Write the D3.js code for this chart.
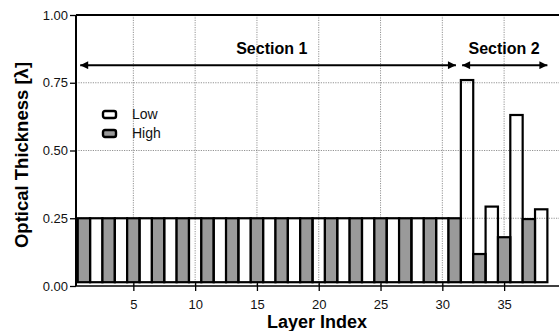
<!DOCTYPE html>
<html>
<head>
<meta charset="utf-8">
<script src="https://cdn.jsdelivr.net/npm/d3@7"></script>
<style>
  body { margin: 0; background: #fff; }
  text { font-family: "Liberation Sans", Arial, Helvetica, sans-serif; }
</style>
</head>
<body>
<div id="vis"></div>
<script>
const w = 559;
const h = 331;

// layer index 1..38, optical thickness in waves
const layers = d3.range(1, 39);
const thickness = [
    0.25, 0.25, 0.25, 0.25, 0.25, 0.25, 0.25, 0.25, 0.25, 0.25,
    0.25, 0.25, 0.25, 0.25, 0.25, 0.25, 0.25, 0.25, 0.25, 0.25,
    0.25, 0.25, 0.25, 0.25, 0.25, 0.25, 0.25, 0.25, 0.25, 0.25,
    0.25, 0.76, 0.118, 0.293, 0.18, 0.631, 0.247, 0.283
];
// odd layers are high index, even layers low index
const material = layers.map(i => i % 2 === 1 ? "High" : "Low");

const yTicks = [0, 0.25, 0.5, 0.75, 1.0];
const xTicks = [5, 10, 15, 20, 25, 30, 35];
const legendItems = ["Low", "High"];
const sections = [
    {label: "Section 1", start: 0.7, end: 31.1, labelAt: 16.2},
    {label: "Section 2", start: 31.6, end: 38.5, labelAt: 35.0}
];

const margin = ({top: 15, right: 0, bottom: 45, left: 76});
const barBase = 0.014;

const svg = d3.select('#vis')
    .append('svg')
    .attr('width', w)
    .attr('height', h)

const xScale = d3.scaleLinear()
    .domain([0.36, 39.44])
    .range([margin.left, w - margin.right]);

const yScale = d3.scaleLinear()
    .domain([0, 1])
    .range([h - margin.bottom, margin.top]);

const fillFor = {"High": "#9a9a9a", "Low": "none"};

// grid
svg.append('g')
    .selectAll('line')
    .data(xTicks)
    .join('line')
    .attr('x1', d => xScale(d))
    .attr('x2', d => xScale(d))
    .attr('y1', yScale(1))
    .attr('y2', yScale(0))
    .attr('stroke', '#777')
    .attr('stroke-width', 0.8)
    .attr('stroke-dasharray', '1.2,1.2');

svg.append('g')
    .selectAll('line')
    .data(yTicks.filter(d => d > 0 && d < 1))
    .join('line')
    .attr('x1', xScale.range()[0])
    .attr('x2', xScale.range()[1])
    .attr('y1', d => yScale(d))
    .attr('y2', d => yScale(d))
    .attr('stroke', '#777')
    .attr('stroke-width', 0.8)
    .attr('stroke-dasharray', '1.2,1.2');

// bars
svg.append('g')
    .selectAll('rect')
    .data(layers.map((l, i) => ({layer: l, value: thickness[i], kind: material[i]})))
    .join('rect')
    .attr('x', d => xScale(d.layer - 0.5))
    .attr('width', d => xScale(d.layer + 0.5) - xScale(d.layer - 0.5))
    .attr('y', d => yScale(d.value))
    .attr('height', d => yScale(barBase) - yScale(d.value))
    .attr('fill', d => fillFor[d.kind])
    .attr('stroke', '#000')
    .attr('stroke-width', 2.2);

// axes
const yAxis = d3.axisLeft(yScale)
    .tickValues(yTicks)
    .tickFormat(d3.format('.2f'))
    .tickSize(6)
    .tickPadding(2);

const xAxis = d3.axisBottom(xScale)
    .tickValues(xTicks)
    .tickSize(5)
    .tickPadding(9);

let gx = svg.append('g')
    .attr('transform', 'translate(0,' + yScale(0) + ')')
    .call(xAxis);
gx.select('.domain').attr('stroke-width', 1.5).attr('d', 'M' + xScale.range()[0] + ',0H' + xScale.range()[1]);
gx.selectAll('.tick line').attr('y1', -3).attr('stroke-width', 1.3);
gx.selectAll('.tick text').style('font-size', '13px').attr('fill', '#111');

let gy = svg.append('g')
    .attr('transform', 'translate(' + margin.left + ',0)')
    .call(yAxis);
gy.select('.domain').attr('stroke-width', 2).attr('d', 'M0,' + yScale(0) + 'V' + yScale(1));
gy.selectAll('.tick line').attr('stroke-width', 1.3);
gy.selectAll('.tick text').style('font-size', '13px').attr('fill', '#111');

// top frame
svg.append('line')
    .attr('x1', xScale.range()[0])
    .attr('x2', xScale.range()[1])
    .attr('y1', yScale(1))
    .attr('y2', yScale(1))
    .attr('stroke', '#000')
    .attr('stroke-width', 2);

// section arrows
svg.append('defs')
    .append('marker')
    .attr('id', 'head')
    .attr('viewBox', '0 0 10 10')
    .attr('refX', 10)
    .attr('refY', 5)
    .attr('markerWidth', 13)
    .attr('markerHeight', 8)
    .attr('markerUnits', 'userSpaceOnUse')
    .attr('orient', 'auto-start-reverse')
    .append('path')
    .attr('d', 'M0,0L10,5L0,10Z')
    .attr('fill', '#000');

const arrowY = 0.815;
svg.append('g')
    .selectAll('line')
    .data(sections)
    .join('line')
    .attr('x1', d => xScale(d.start))
    .attr('x2', d => xScale(d.end))
    .attr('y1', yScale(arrowY))
    .attr('y2', yScale(arrowY))
    .attr('stroke', '#000')
    .attr('stroke-width', 2)
    .attr('marker-start', 'url(#head)')
    .attr('marker-end', 'url(#head)');

svg.append('g')
    .selectAll('text')
    .data(sections)
    .join('text')
    .attr('x', d => xScale(d.labelAt))
    .attr('y', yScale(0.856))
    .attr('text-anchor', 'middle')
    .attr('font-weight', 'bold')
    .attr('font-size', '16px')
    .text(d => d.label);

// legend
let legend = svg.append('g')
    .selectAll('g')
    .data(legendItems)
    .join('g')
    .attr('transform', (d, i) => 'translate(103,' + (111 + i * 19) + ')');

legend.append('rect')
    .attr('width', 13)
    .attr('height', 7)
    .attr('rx', 2)
    .attr('fill', d => fillFor[d] === 'none' ? '#fff' : fillFor[d])
    .attr('stroke', '#000')
    .attr('stroke-width', 2.4);

legend.append('text')
    .attr('x', 29)
    .attr('y', 8)
    .attr('font-size', '14px')
    .attr('fill', '#111')
    .text(d => d);

// axis titles
svg.append('text')
    .attr('transform', 'translate(28,' + 155 + ') rotate(-90)')
    .attr('text-anchor', 'middle')
    .attr('font-weight', 'bold')
    .attr('font-size', '18.5px')
    .text('Optical Thickness [\u03bb]');

svg.append('text')
    .attr('x', 317)
    .attr('y', 328)
    .attr('text-anchor', 'middle')
    .attr('font-weight', 'bold')
    .attr('font-size', '18px')
    .text('Layer Index');
</script>
</body>
</html>
